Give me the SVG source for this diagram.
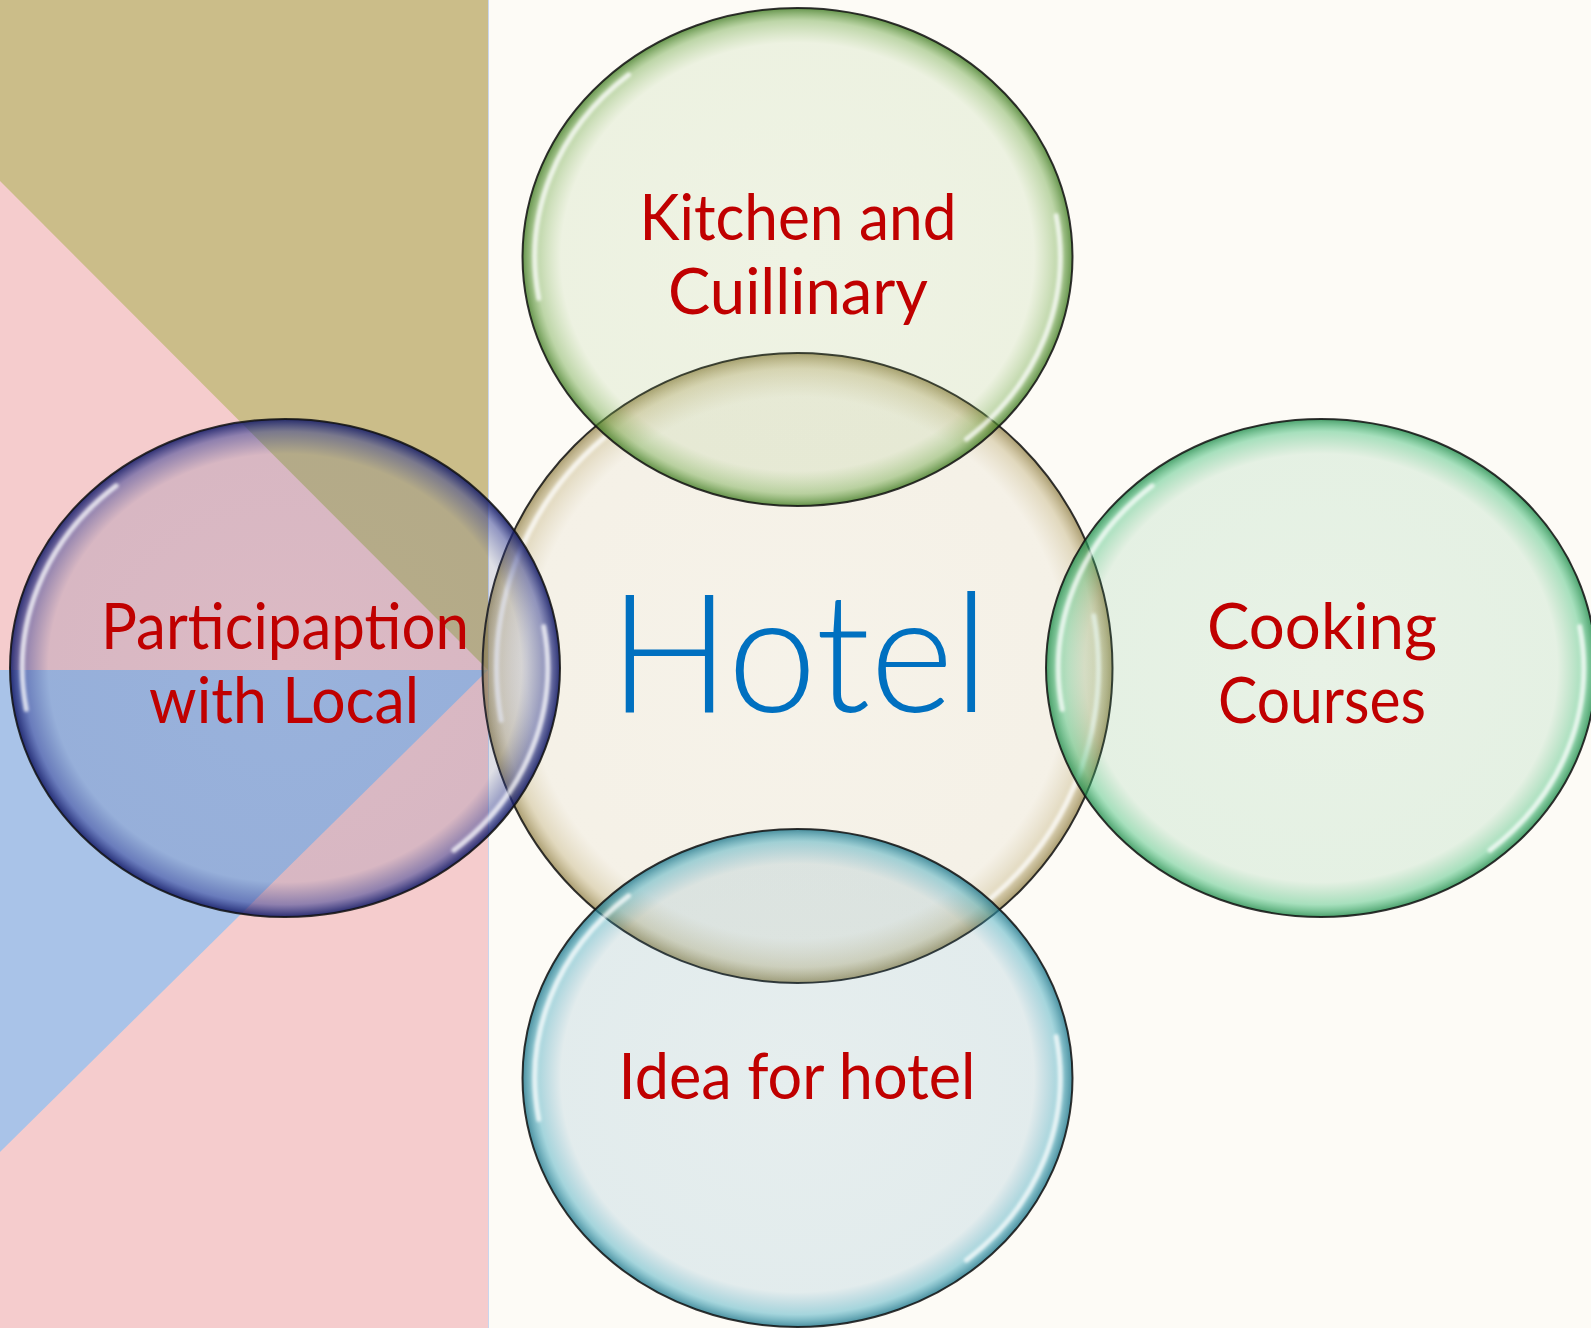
<svg xmlns="http://www.w3.org/2000/svg" width="1591" height="1328" viewBox="0 0 1591 1328">
<style>
.lbl{font-family:Lato,"Open Sans","Noto Sans",sans-serif;font-size:64px;fill:#c00000;text-anchor:middle}
.hotel{font-family:Lato,"Open Sans","Noto Sans",sans-serif;font-size:166px;font-weight:300;fill:#0070c0;text-anchor:middle}
.edge{stroke:#111;stroke-width:2;stroke-opacity:0.85}
.hl{fill:none;stroke:#fff;stroke-width:5;stroke-linecap:round;stroke-opacity:0.75;filter:url(#blur)}
</style>
<defs>
<filter id="blur" x="-20%" y="-20%" width="140%" height="140%"><feGaussianBlur stdDeviation="1.6"/></filter>
<radialGradient id="gBeige"><stop offset="0" stop-color="#c3b38a" stop-opacity="0.12"/><stop offset="0.86" stop-color="#c3b38a" stop-opacity="0.14"/><stop offset="0.95" stop-color="#b8a56a" stop-opacity="0.4"/><stop offset="1" stop-color="#8f7e45" stop-opacity="0.75"/></radialGradient>
<radialGradient id="gLime"><stop offset="0" stop-color="#89b860" stop-opacity="0.12"/><stop offset="0.86" stop-color="#89b860" stop-opacity="0.14"/><stop offset="0.95" stop-color="#6fa848" stop-opacity="0.45"/><stop offset="1" stop-color="#3f7a22" stop-opacity="0.8"/></radialGradient>
<radialGradient id="gNavy"><stop offset="0" stop-color="#253682" stop-opacity="0.12"/><stop offset="0.86" stop-color="#253682" stop-opacity="0.14"/><stop offset="0.95" stop-color="#2a3590" stop-opacity="0.5"/><stop offset="1" stop-color="#151c66" stop-opacity="0.9"/></radialGradient>
<radialGradient id="gMint"><stop offset="0" stop-color="#4eb070" stop-opacity="0.12"/><stop offset="0.86" stop-color="#4eb070" stop-opacity="0.14"/><stop offset="0.95" stop-color="#3fbf78" stop-opacity="0.45"/><stop offset="1" stop-color="#1f8a4a" stop-opacity="0.8"/></radialGradient>
<radialGradient id="gTeal"><stop offset="0" stop-color="#3e8eb3" stop-opacity="0.12"/><stop offset="0.86" stop-color="#3e8eb3" stop-opacity="0.14"/><stop offset="0.95" stop-color="#3aa7bd" stop-opacity="0.45"/><stop offset="1" stop-color="#1d7489" stop-opacity="0.8"/></radialGradient>
</defs>
<rect width="1591" height="1328" fill="#fdfbf6"/>
<g id="panel">
<rect x="0" y="0" width="488" height="1328" fill="#f5cccd"/>
<polygon points="0,0 488,0 488,670 0,181" fill="#cbbd89"/>
<polygon points="0,670 488,670 0,1152" fill="#a9c3e8"/>
<line x1="488.5" y1="0" x2="488.5" y2="1328" stroke="#c9d6ee" stroke-width="1"/>
</g>
<g id="connectors"></g>
<g id="hotel">
<circle cx="797.5" cy="668" r="315" fill="url(#gBeige)" class="edge"/>
<path class="hl" d="M501.2,720.3 A300.8,300.8 0 0 1 604.1,437.6"/>
<path class="hl" d="M1093.8,615.7 A300.8,300.8 0 0 1 990.9,898.4"/>
<text class="hotel" x="799" y="712" textLength="380" lengthAdjust="spacingAndGlyphs">Hotel</text>
</g>
<g id="kitchen">
<ellipse cx="797.5" cy="257" rx="275" ry="249" fill="url(#gLime)" class="edge"/>
<path class="hl" d="M538.8,298.4 A262.6,237.8 0 0 1 628.6,74.8"/>
<path class="hl" d="M1056.2,215.6 A262.6,237.8 0 0 1 966.4,439.2"/>
<text class="lbl" x="798" y="240" textLength="317" lengthAdjust="spacingAndGlyphs">Kitchen and</text>
<text class="lbl" x="798" y="314" textLength="260" lengthAdjust="spacingAndGlyphs">Cuillinary</text>
</g>
<g id="idea">
<ellipse cx="797.5" cy="1078" rx="275" ry="249" fill="url(#gTeal)" class="edge"/>
<path class="hl" d="M538.8,1119.4 A262.6,237.8 0 0 1 628.6,895.8"/>
<path class="hl" d="M1056.2,1036.6 A262.6,237.8 0 0 1 966.4,1260.2"/>
<text class="lbl" x="797" y="1099" textLength="357" lengthAdjust="spacingAndGlyphs">Idea for hotel</text>
</g>
<g id="participation">
<ellipse cx="285" cy="668" rx="275" ry="249" fill="url(#gNavy)" class="edge"/>
<path class="hl" d="M26.3,709.4 A262.6,237.8 0 0 1 116.1,485.8"/>
<path class="hl" d="M543.7,626.6 A262.6,237.8 0 0 1 453.9,850.2"/>
<text class="lbl" x="285" y="649" textLength="368" lengthAdjust="spacingAndGlyphs">Participaption</text>
<text class="lbl" x="284" y="723" textLength="270" lengthAdjust="spacingAndGlyphs">with Local</text>
</g>
<g id="cooking">
<ellipse cx="1321" cy="668" rx="275" ry="249" fill="url(#gMint)" class="edge"/>
<path class="hl" d="M1062.3,709.4 A262.6,237.8 0 0 1 1152.1,485.8"/>
<path class="hl" d="M1579.7,626.6 A262.6,237.8 0 0 1 1489.9,850.2"/>
<text class="lbl" x="1322" y="649" textLength="230" lengthAdjust="spacingAndGlyphs">Cooking</text>
<text class="lbl" x="1322" y="723" textLength="208" lengthAdjust="spacingAndGlyphs">Courses</text>
</g>
</svg>
